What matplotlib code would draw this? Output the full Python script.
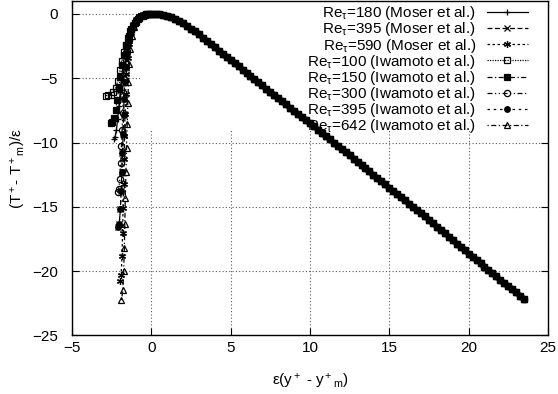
import numpy as np
import matplotlib
matplotlib.use('Agg')
import matplotlib.pyplot as plt
from matplotlib.patches import Rectangle

plt.rcParams['font.family'] = ['Liberation Sans', 'DejaVu Sans']
plt.rcParams['mathtext.fontset'] = 'custom'
plt.rcParams['mathtext.rm'] = 'Liberation Sans'
plt.rcParams['mathtext.it'] = 'Liberation Sans'
plt.rcParams['mathtext.default'] = 'regular'

# collapsed outer part, shared by all cases (x >= 0)
x_outer = [0.0, 0.25, 0.5, 0.75, 1.0, 1.25, 1.5, 1.75, 2.0, 2.25, 2.5, 2.75, 3.0, 3.25,
           3.5, 3.75, 4.0, 4.25, 4.5, 4.75, 5.0, 5.25, 5.5, 5.75, 6.0, 6.25, 6.5, 6.75,
           7.0, 7.25, 7.5, 7.75, 8.0, 8.25, 8.5, 8.75, 9.0, 9.25, 9.5, 9.75, 10.0,
           10.25, 10.5, 10.75, 11.0, 11.25, 11.5, 11.75, 12.0, 12.25, 12.5, 12.75,
           13.0, 13.25, 13.5, 13.75, 14.0, 14.25, 14.5, 14.75, 15.0, 15.25, 15.5,
           15.75, 16.0, 16.25, 16.5, 16.75, 17.0, 17.25, 17.5, 17.75, 18.0, 18.25,
           18.5, 18.75, 19.0, 19.25, 19.5, 19.75, 20.0, 20.25, 20.5, 20.75, 21.0,
           21.25, 21.5, 21.75, 22.0, 22.25, 22.5, 22.75, 23.0, 23.25, 23.5]
y_outer = [0.0, -0.01, -0.04, -0.09, -0.17, -0.27, -0.4, -0.56, -0.75, -0.94, -1.15,
           -1.37, -1.6, -1.85, -2.1, -2.35, -2.6, -2.85, -3.1, -3.35, -3.6, -3.85,
           -4.09, -4.34, -4.58, -4.83, -5.07, -5.32, -5.56, -5.81, -6.05, -6.3, -6.54,
           -6.79, -7.03, -7.28, -7.52, -7.77, -8.01, -8.26, -8.5, -8.75, -9.0, -9.25,
           -9.5, -9.75, -10.0, -10.25, -10.5, -10.75, -11.0, -11.25, -11.5, -11.75,
           -12.0, -12.25, -12.5, -12.75, -13.0, -13.25, -13.5, -13.75, -14.0, -14.25,
           -14.5, -14.75, -15.0, -15.25, -15.5, -15.75, -16.0, -16.27, -16.55, -16.8,
           -17.05, -17.32, -17.6, -17.85, -18.1, -18.37, -18.65, -18.9, -19.15, -19.4,
           -19.65, -19.9, -20.15, -20.4, -20.65, -20.9, -21.15, -21.4, -21.65, -21.9,
           -22.15]

# near-wall branches (x < 0), from the wall up to the peak
x_100 = [-2.85, -2.7, -2.55, -2.4, -2.25, -2.1, -1.98, -1.87, -1.75, -1.62, -1.48, -1.32,
         -1.15, -0.95, -0.75, -0.55, -0.35, -0.15]
y_100 = [-6.35, -6.33, -6.27, -6.1, -5.75, -5.2, -4.4, -3.65, -3.0, -2.4, -1.85, -1.35,
         -0.95, -0.6, -0.33, -0.15, -0.05, -0.01]
x_150 = [-2.55, -2.45, -2.35, -2.25, -2.15, -2.05, -1.95, -1.85, -1.72, -1.58, -1.42,
         -1.25, -1.05, -0.85, -0.62, -0.4, -0.2]
y_150 = [-8.45, -8.4, -8.1, -7.5, -6.7, -5.8, -4.9, -4.0, -3.2, -2.45, -1.75, -1.2,
         -0.75, -0.42, -0.18, -0.06, -0.01]
x_180 = [-2.35, -2.28, -2.2, -2.12, -2.04, -1.96, -1.88, -1.78, -1.66, -1.52, -1.36,
         -1.18, -0.98, -0.76, -0.52, -0.28]
y_180 = [-9.7, -9.55, -9.0, -8.2, -7.2, -6.1, -5.0, -4.0, -3.1, -2.3, -1.6, -1.05,
         -0.62, -0.3, -0.1, -0.02]
x_300 = [-2.12, -2.05, -1.98, -1.93, -1.88, -1.84, -1.8, -1.76, -1.7, -1.62, -1.52,
         -1.4, -1.25, -1.08, -0.88, -0.65, -0.4, -0.18]
y_300 = [-13.85, -13.6, -12.8, -11.6, -10.3, -9.0, -7.7, -6.4, -5.1, -3.9, -2.9, -2.05,
         -1.35, -0.82, -0.42, -0.16, -0.04, 0.0]
x_395 = [-2.1, -2.02, -1.95, -1.9, -1.86, -1.82, -1.78, -1.75, -1.72, -1.68, -1.62,
         -1.54, -1.44, -1.32, -1.17, -0.99, -0.78, -0.55, -0.3]
y_395 = [-16.6, -16.3, -15.2, -13.8, -12.3, -10.8, -9.3, -7.9, -6.6, -5.3, -4.1, -3.05,
         -2.15, -1.45, -0.9, -0.5, -0.22, -0.07, -0.01]
x_590 = [-1.96, -1.9, -1.85, -1.81, -1.78, -1.75, -1.72, -1.69, -1.66, -1.62, -1.57,
         -1.5, -1.41, -1.3, -1.16, -0.99, -0.79, -0.56, -0.31]
y_590 = [-20.8, -20.3, -18.8, -17.0, -15.1, -13.2, -11.3, -9.5, -7.8, -6.2, -4.7, -3.4,
         -2.35, -1.5, -0.9, -0.48, -0.2, -0.06, -0.01]
x_642 = [-1.88, -1.8, -1.74, -1.7, -1.67, -1.64, -1.6, -1.56, -1.52, -1.48, -1.44,
         -1.39, -1.33, -1.24, -1.12, -0.96, -0.77, -0.55, -0.3]
y_642 = [-22.25, -21.5, -20.0, -18.2, -16.3, -14.3, -12.3, -10.4, -8.6, -6.9, -5.3,
         -3.9, -2.7, -1.75, -1.05, -0.55, -0.22, -0.06, -0.01]

labels = [r'Re$_\tau$=180 (Moser et al.)', r'Re$_\tau$=395 (Moser et al.)',
          r'Re$_\tau$=590 (Moser et al.)', r'Re$_\tau$=100 (Iwamoto et al.)',
          r'Re$_\tau$=150 (Iwamoto et al.)', r'Re$_\tau$=300 (Iwamoto et al.)',
          r'Re$_\tau$=395 (Iwamoto et al.)', r'Re$_\tau$=642 (Iwamoto et al.)']
branches = [(x_180, y_180), (x_395, y_395), (x_590, y_590), (x_100, y_100),
            (x_150, y_150), (x_300, y_300), (x_395, y_395), (x_642, y_642)]

styles = [
    dict(ls='-', marker='+', ms=5, mfc='k'),
    dict(ls=(0, (4, 2)), marker='x', ms=4.5, mfc='k'),
    dict(ls=(0, (2, 2)), marker=(6, 2, 0), ms=5, mfc='k'),
    dict(ls=(0, (1, 1)), marker='s', ms=4.5, mfc='none'),
    dict(ls=(0, (4, 2, 1, 2)), marker='s', ms=4.5, mfc='k'),
    dict(ls=(0, (4, 2, 1, 2, 1, 2)), marker='o', ms=4.5, mfc='none'),
    dict(ls=(0, (2, 3)), marker='o', ms=4, mfc='k'),
    dict(ls=(0, (1, 2, 4, 2)), marker='^', ms=4.5, mfc='none'),
]

fig = plt.figure(figsize=(5.58, 3.94), dpi=100)
ax = fig.add_axes([0.129, 0.1485, 0.853, 0.849])

for (bx, by), lab, st in zip(branches, labels, styles):
    xs = list(bx) + x_outer
    ys = list(by) + y_outer
    ax.plot(xs, ys, color='k', lw=0.9, mec='k', mew=0.9, label=lab, zorder=3, **st)

ax.set_xlim(-5, 25)
ax.set_ylim(-25, 1)
ax.set_xticks([-5, 0, 5, 10, 15, 20, 25])
ax.set_yticks([-25, -20, -15, -10, -5, 0])
ax.set_axisbelow(True)
ax.grid(True, color='0.35', ls=(0, (1, 2)), lw=0.8)
# key area hides the grid like gnuplot does
ax.add_patch(Rectangle((0.143, 0.61), 0.857, 0.39, transform=ax.transAxes,
                       facecolor='white', edgecolor='none', zorder=1))
ax.tick_params(direction='in', length=5, width=0.8, top=True, right=True,
               labelsize=11, colors='k')
ax.tick_params(axis='x', pad=4)
ax.tick_params(axis='y', pad=10)
for sp in ax.spines.values():
    sp.set_linewidth(1.0)

ax.set_xlabel(r'ε(y$^+$ - y$^+$$_m$)', fontsize=11, labelpad=12)
ax.set_ylabel(r'(T$^+$- T$^+$$_m$)/ε', fontsize=11, labelpad=3)

leg = ax.legend(loc='upper right', bbox_to_anchor=(0.958, 0.99), frameon=False,
                markerfirst=False, numpoints=1, fontsize=11, handlelength=2.7,
                handletextpad=0.7, labelspacing=-0.12, borderpad=0, borderaxespad=0)
leg.set_zorder(2)

fig.savefig('out.png', dpi=100)
